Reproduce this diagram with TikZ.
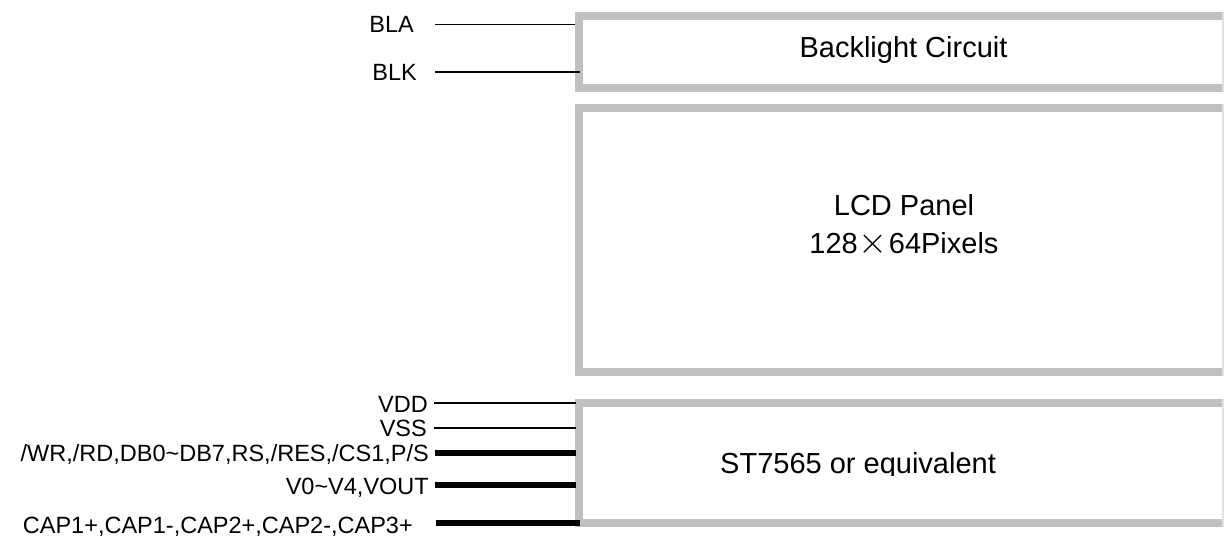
\documentclass[tikz,border=0pt]{standalone}
\usepackage{graphicx}
\usepackage{fontspec}
\setmainfont{Liberation Sans}
\definecolor{boxgray}{HTML}{C0C0C0}
\definecolor{edgegray}{HTML}{E2E2E2}
\begin{document}
\begin{tikzpicture}[x=1pt,y=-1pt,
  frame/.style={draw=boxgray,line width=8pt,line join=miter},
  rightedge/.style={draw=edgegray,line width=1.2pt},
  pinlabel/.style={anchor=base east,inner sep=0pt,font=\fontsize{23.5}{28}\selectfont},
  title/.style={inner sep=0pt,font=\fontsize{29}{38}\selectfont},
  thinwire/.style={draw=black,line width=1.8pt},
  buswire/.style={draw=black,line width=6pt}]
\useasboundingbox (0,0) rectangle (1224,539);
% boxes
\draw[frame] (1224,16) -- (579,16) -- (579,88) -- (1224,88);
\draw[rightedge] (1223,12) -- (1223,92);
\draw[frame] (1224,108) -- (579,108) -- (579,372) -- (1224,372);
\draw[rightedge] (1223,104) -- (1223,376);
\draw[frame] (1224,403) -- (579,403) -- (579,523) -- (1224,523);
\draw[rightedge] (1223,399) -- (1223,527);
% titles
\node[title,anchor=base] (bl) at (903.5,57) {Backlight Circuit};
\node[title,anchor=base,align=center] (lcd) at (904,253) {LCD Panel\\128\kern1pt\raisebox{-0.5pt}{\scalebox{1.5}{$\times$}}\kern1pt64Pixels};
\begin{scope}
\clip (600,420) rectangle (1200,475.5);
\node[title,anchor=base west] (st) at (720,473) {ST7565 or equivalent};
\end{scope}
% pin labels
\node[pinlabel] (bla) at (414,32.5) {BLA};
\node[pinlabel] (blk) at (417,80.5) {BLK};
\node[pinlabel] (vdd) at (428,412) {VDD};
\node[pinlabel] (vss) at (427,436.5) {VSS};
\node[pinlabel] (bus) at (429,461.5) {/WR,/RD,DB0\textasciitilde DB7,RS,/RES,/CS1,P/S};
\node[pinlabel] (vo) at (429,494) {V0\textasciitilde V4,VOUT};
\node[pinlabel] (cap) at (413,533) {CAP1+,CAP1-,CAP2+,CAP2-,CAP3+};
% wire ends
\coordinate (blaA) at (435,24.5);  \coordinate (blaB) at (575,24.5);
\coordinate (blkA) at (435,72);    \coordinate (blkB) at (580,72);
\coordinate (vddA) at (434,403);   \coordinate (vddB) at (576,403);
\coordinate (vssA) at (434,428);   \coordinate (vssB) at (576,428);
\coordinate (busA) at (435,453);   \coordinate (busB) at (576,453);
\coordinate (voA) at (435,485);    \coordinate (voB) at (576,485);
\coordinate (capA) at (436,523);   \coordinate (capB) at (580,523);
\draw[thinwire] (blaA) -- (blaB);
\draw[thinwire] (blkA) -- (blkB);
\draw[thinwire] (vddA) -- (vddB);
\draw[thinwire] (vssA) -- (vssB);
\draw[buswire] (busA) -- (busB);
\draw[buswire] (voA) -- (voB);
\draw[buswire] (capA) -- (capB);
\end{tikzpicture}
\end{document}
